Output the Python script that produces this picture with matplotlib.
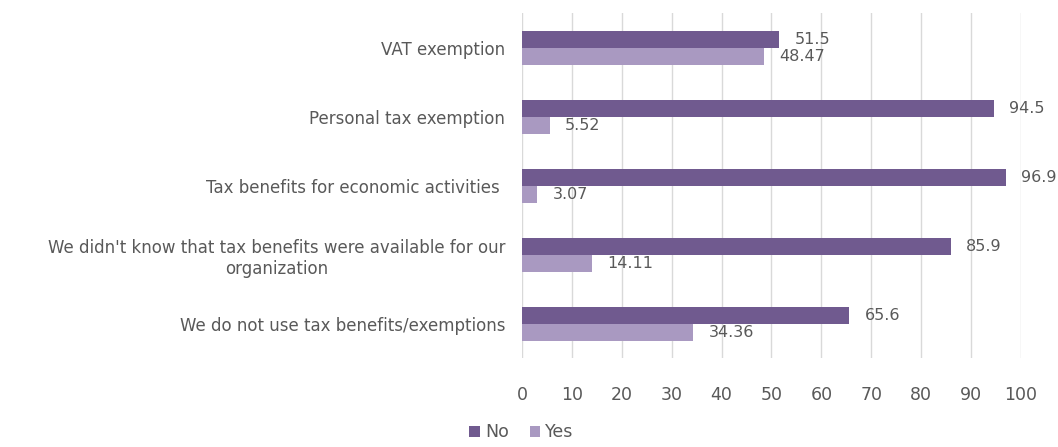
import matplotlib
matplotlib.use("Agg")
import matplotlib.pyplot as plt
import numpy as np

categories = [
    "VAT exemption",
    "Personal tax exemption",
    "Tax benefits for economic activities ",
    "We didn't know that tax benefits were available for our\norganization",
    "We do not use tax benefits/exemptions",
]
no_vals = [51.5, 94.5, 96.9, 85.9, 65.6]
yes_vals = [48.47, 5.52, 3.07, 14.11, 34.36]
no_labels = ["51.5", "94.5", "96.9", "85.9", "65.6"]
yes_labels = ["48.47", "5.52", "3.07", "14.11", "34.36"]

c_no = "#705A8F"
c_yes = "#A999C1"

fig = plt.figure(figsize=(10.58, 4.47), dpi=100)
ax = fig.add_axes([0.4934, 0.198, 0.4716, 0.772])

y = np.arange(len(categories))[::-1]
h = 0.25
ax.barh(y + h / 2, no_vals, height=h, color=c_no, label="No", zorder=3)
ax.barh(y - h / 2, yes_vals, height=h, color=c_yes, label="Yes", zorder=3)

for yi, v, t in zip(y, no_vals, no_labels):
    ax.annotate(t, (v, yi + h / 2), xytext=(11, 0), textcoords="offset points",
                va="center", ha="left", fontsize=11.5, color="#595959")
for yi, v, t in zip(y, yes_vals, yes_labels):
    ax.annotate(t, (v, yi - h / 2), xytext=(11, 0), textcoords="offset points",
                va="center", ha="left", fontsize=11.5, color="#595959")

ax.set_xlim(0, 100)
ax.set_ylim(-0.5, len(categories) - 0.5)
ax.set_xticks(np.arange(0, 101, 10))
ax.set_yticks(y)
ax.set_yticklabels(categories, fontsize=12, color="#595959", multialignment="center")
ax.tick_params(axis="x", length=0, pad=20, labelsize=12.5, labelcolor="#595959")
ax.tick_params(axis="y", length=0, pad=12)
ax.grid(axis="x", color="#D9D9D9", linewidth=1, zorder=0)
for s in ax.spines.values():
    s.set_visible(False)

fig.legend(loc="lower center", bbox_to_anchor=(0.493, -0.022), ncol=2, frameon=False,
           fontsize=12.5, handlelength=0.6, handleheight=0.6, handletextpad=0.3,
           columnspacing=1.2, labelcolor="#595959")

fig.savefig("out.png", dpi=100)
